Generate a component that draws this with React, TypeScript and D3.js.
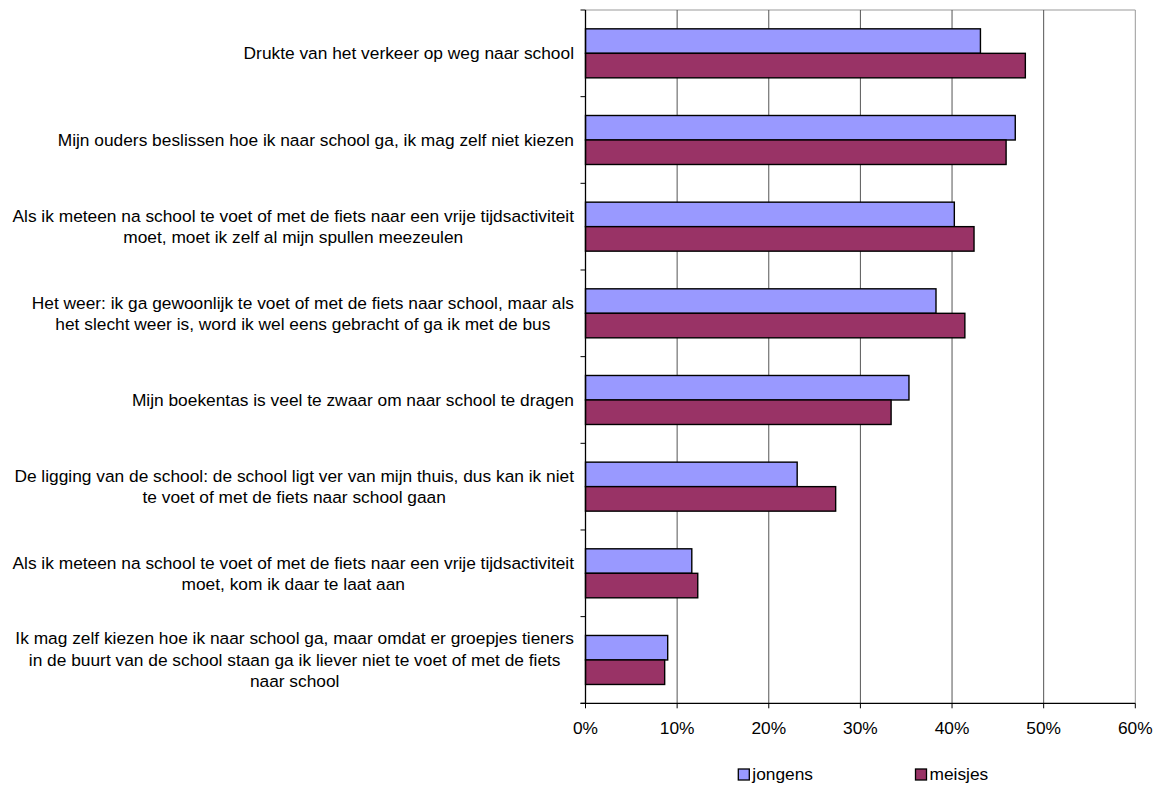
import React from "react";
import * as d3 from "d3";

const categories: string[][] = [
  ["Drukte van het verkeer op weg naar school"],
  ["Mijn ouders beslissen hoe ik naar school ga, ik mag zelf niet kiezen"],
  [
    "Als ik meteen na school te voet of met de fiets naar een vrije tijdsactiviteit",
    "moet, moet ik zelf al mijn spullen meezeulen",
  ],
  [
    "Het weer: ik ga gewoonlijk te voet of met de fiets naar school, maar als",
    "het slecht weer is, word ik wel eens gebracht of ga ik met de bus",
  ],
  ["Mijn boekentas is veel te zwaar om naar school te dragen"],
  [
    "De ligging van de school: de school ligt ver van mijn thuis, dus kan ik niet",
    "te voet of met de fiets naar school gaan",
  ],
  [
    "Als ik meteen na school te voet of met de fiets naar een vrije tijdsactiviteit",
    "moet, kom ik daar te laat aan",
  ],
  [
    "Ik mag zelf kiezen hoe ik naar school ga, maar omdat er groepjes tieners",
    "in de buurt van de school staan ga ik liever niet te voet of met de fiets",
    "naar school",
  ],
];

const jongens = [43.1, 46.9, 40.25, 38.25, 35.3, 23.1, 11.6, 8.97];
const meisjes = [48.0, 45.9, 42.4, 41.4, 33.35, 27.3, 12.25, 8.64];
const seriesNames = ["jongens", "meisjes"];
const seriesColors = ["#9999FF", "#993366"];
const xTicks = [0, 10, 20, 30, 40, 50, 60];

const FONT = "'Liberation Sans', Arial, sans-serif";
const FS = 17.33;

let ctx: CanvasRenderingContext2D | null = null;
function measure(t: string): number {
  if (!ctx) {
    const c = document.createElement("canvas");
    ctx = c.getContext("2d");
  }
  if (!ctx) return t.length * FS * 0.5;
  ctx.font = `${FS}px ${FONT}`;
  return ctx.measureText(t).width;
}

export default function App() {
  const W = 1159;
  const H = 785;
  const left = 585.5;
  const right = 1135.3;
  const top = 10;
  const bottom = 703.3;

  const x = d3.scaleLinear().domain([0, 60]).range([left, right]);
  const y = d3
    .scaleBand<number>()
    .domain(categories.map((_, i) => i))
    .range([top, bottom])
    .padding(0);
  const bw = y.bandwidth();
  const groupH = 49;
  const sub = d3
    .scaleBand<string>()
    .domain(seriesNames)
    .range([(bw - groupH) / 2, (bw + groupH) / 2])
    .padding(0);

  const labelRight = 574;
  const lh = 21.5;

  return (
    <svg
      width={W}
      height={H}
      style={{ position: "absolute", left: 0, top: 0, background: "#fff" }}
      fontFamily={FONT}
    >
      <line x1={left} x2={right} y1={top} y2={top} stroke="#999" strokeWidth={1} />
      <line x1={right} x2={right} y1={top} y2={bottom} stroke="#999" strokeWidth={1} />
      {xTicks
        .filter((t) => t > 0 && t < 60)
        .map((t) => (
          <line
            key={"g" + t}
            x1={x(t)}
            x2={x(t)}
            y1={top}
            y2={bottom}
            stroke="#555"
            strokeWidth={1}
          />
        ))}
      {categories.map((_, i) =>
        [jongens, meisjes].map((vals, s) => (
          <rect
            key={`b${i}-${s}`}
            x={x(0)}
            y={(y(i) as number) + (sub(seriesNames[s]) as number)}
            width={x(vals[i]) - x(0)}
            height={sub.bandwidth()}
            fill={seriesColors[s]}
            stroke="#000"
            strokeWidth={1.4}
          />
        ))
      )}
      <line x1={left} x2={left} y1={top} y2={bottom} stroke="#000" strokeWidth={1.3} />
      <line x1={left - 5} x2={right} y1={bottom} y2={bottom} stroke="#000" strokeWidth={1.3} />
      {d3.range(categories.length + 1).map((i) => {
        const yy = top + i * bw;
        return <line key={"lt" + i} x1={left - 5} x2={left} y1={yy} y2={yy} stroke="#000" strokeWidth={1} />;
      })}
      {xTicks.map((t) => (
        <g key={"xt" + t}>
          <line x1={x(t)} x2={x(t)} y1={bottom} y2={bottom + 5} stroke="#000" strokeWidth={1} />
          <text x={x(t)} y={734.3} textAnchor="middle" fontSize={FS} fill="#000">
            {t + "%"}
          </text>
        </g>
      ))}
      {categories.map((lines, i) => {
        const maxW = Math.max(...lines.map(measure));
        const cx = labelRight - maxW / 2;
        const cy = (y(i) as number) + bw / 2;
        const n = lines.length;
        return (
          <text key={"c" + i} textAnchor="middle" fontSize={FS} fill="#000">
            {lines.map((ln, k) => (
              <tspan key={k} x={cx} y={cy + (k - (n - 1) / 2) * lh + 6}>
                {ln}
              </tspan>
            ))}
          </text>
        );
      })}
      {seriesNames.map((name, s) => {
        const lx = s === 0 ? 738.3 : 915.5;
        return (
          <g key={"lg" + s}>
            <rect x={lx} y={769} width={11} height={11} fill={seriesColors[s]} stroke="#000" strokeWidth={1.3} />
            <text x={lx + 14} y={780} fontSize={FS} fill="#000">
              {name}
            </text>
          </g>
        );
      })}
    </svg>
  );
}
